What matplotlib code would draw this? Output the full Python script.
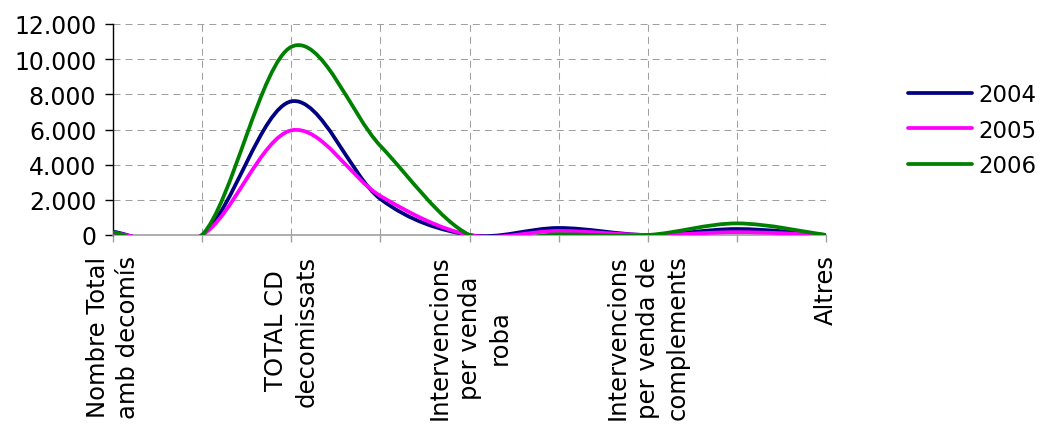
import numpy as np
import matplotlib
matplotlib.use("Agg")
import matplotlib.pyplot as plt
from matplotlib.path import Path
from matplotlib.patches import PathPatch
from matplotlib.lines import Line2D
from matplotlib.ticker import FuncFormatter, MultipleLocator

# ---- data ----
categories = [
    "Nombre Total\namb decomís", "",
    "TOTAL CD\ndecomissats", "",
    "Intervencions\nper venda\nroba", "",
    "Intervencions\nper venda de\ncomplements", "",
    "Altres",
]
years = ["2004", "2005", "2006"]
values_2004 = [180, 0, 7600, 2050, 0, 400, 0, 340, 0]
values_2005 = [120, 0, 5950, 2220, 0, 230, 0, 160, 0]
values_2006 = [150, 0, 10700, 5070, 0, 40, 0, 660, 0]
colors = ["#000080", "#FF00FF", "#008000"]

W, H = 1041, 427
fig = plt.figure(figsize=(W / 100, H / 100), dpi=100)
ax = fig.add_axes([113 / W, 1 - 236 / H, (826 - 113) / W, (236 - 25) / H])


def smooth_path(ys):
    pts = np.column_stack([np.arange(len(ys), dtype=float), np.asarray(ys, float)])
    n = len(pts)
    verts = [pts[0]]
    codes = [Path.MOVETO]
    for i in range(n - 1):
        p_prev = pts[i - 1] if i > 0 else pts[i]
        p_next2 = pts[i + 2] if i + 2 < n else pts[i + 1]
        c1 = pts[i] + (pts[i + 1] - p_prev) / 6.0
        c2 = pts[i + 1] - (p_next2 - pts[i]) / 6.0
        verts += [c1, c2, pts[i + 1]]
        codes += [Path.CURVE4] * 3
    return Path(np.array(verts), codes)


series = [values_2004, values_2005, values_2006]
handles = []
for ys, c, lab in zip(series, colors, years):
    patch = PathPatch(smooth_path(ys), fill=False, edgecolor=c, lw=2.7,
                      capstyle="round", joinstyle="round", zorder=3)
    ax.add_patch(patch)
    handles.append(Line2D([], [], color=c, lw=2.7, solid_capstyle="round"))

ax.set_xlim(0, len(categories) - 1)
ax.set_ylim(0, 12000)

ax.set_xticks(range(len(categories)))
ax.set_xticklabels(categories, rotation=90, ha="center", va="top",
                   multialignment="center", fontsize=17.5, linespacing=1.33)
ax.yaxis.set_major_locator(MultipleLocator(2000))
ax.yaxis.set_major_formatter(FuncFormatter(lambda v, p: f"{int(v):,}".replace(",", ".")))
ax.tick_params(axis="y", labelsize=17, length=6, width=1, color="black", pad=6)
ax.tick_params(axis="x", length=5, width=1, color="#A0A0A0", pad=9)

for s in ["top", "right"]:
    ax.spines[s].set_visible(False)
ax.spines["left"].set_color("black")
ax.spines["left"].set_linewidth(1)
ax.spines["bottom"].set_color("#A0A0A0")
ax.spines["bottom"].set_linewidth(1.2)

ax.grid(True, color="#A0A0A0", lw=0.75, linestyle=(0, (6.7, 4.8)), zorder=0)
ax.set_axisbelow(True)

fig.legend(handles, years, loc="center left",
           bbox_to_anchor=(908 / W, 1 - 131 / H), frameon=False,
           fontsize=16.5, handlelength=2.8, handletextpad=0.27,
           labelspacing=0.53, borderpad=0, borderaxespad=0)

fig.savefig("out.png", dpi=100)
